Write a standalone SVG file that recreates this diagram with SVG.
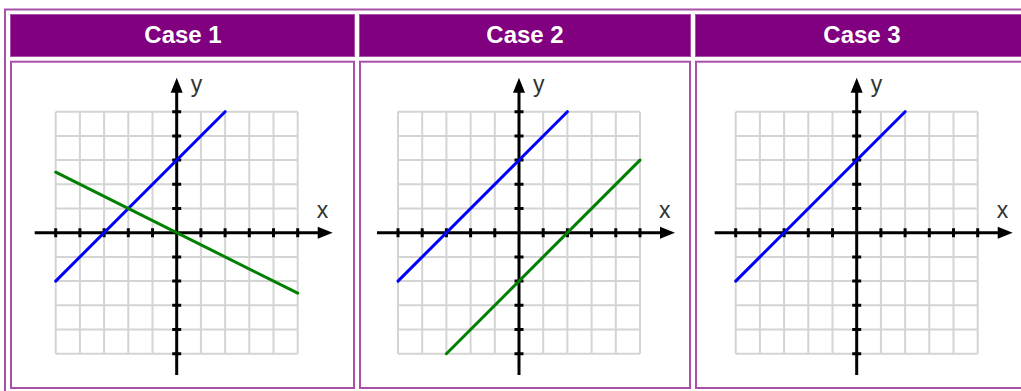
<svg xmlns="http://www.w3.org/2000/svg" xmlns:xlink="http://www.w3.org/1999/xlink" width="1021" height="391" viewBox="0 0 1021 391">
<style>
.outer{fill:none;stroke:#a850a8;stroke-width:2}
.head{fill:#800080;stroke:#a850a8;stroke-width:1}
.cell{fill:#fff;stroke:#a850a8;stroke-width:2}
.htxt{font-family:"Liberation Sans",Arial,sans-serif;font-weight:bold;font-size:24px;fill:#fff;text-anchor:middle}
.lbl{font-family:"Liberation Sans",Arial,sans-serif;font-size:23px;fill:#333}
.grid{fill:none;stroke:#d4d4d4;stroke-width:2}
.axis{fill:none;stroke:#000;stroke-width:3}
.tick{fill:none;stroke:#000;stroke-width:3}
.blue{stroke:#0000ff;stroke-width:3;stroke-linecap:round;fill:none}
.green{stroke:#008000;stroke-width:3;stroke-linecap:round;fill:none}
</style>
<defs>
<g id="plane">
<path class="grid" d="M-121 -121V121M-96.8 -121V121M-72.6 -121V121M-48.4 -121V121M-24.2 -121V121M24.2 -121V121M48.4 -121V121M72.6 -121V121M96.8 -121V121M121 -121V121M-121 -121H121M-121 -96.8H121M-121 -72.6H121M-121 -48.4H121M-121 -24.2H121M-121 24.2H121M-121 48.4H121M-121 72.6H121M-121 96.8H121M-121 121H121"/>
<path class="axis" d="M0 -141V142.3M-142 0H142"/>
<path class="tick" d="M-121 -4.5V4.5M-96.8 -4.5V4.5M-72.6 -4.5V4.5M-48.4 -4.5V4.5M-24.2 -4.5V4.5M24.2 -4.5V4.5M48.4 -4.5V4.5M72.6 -4.5V4.5M96.8 -4.5V4.5M121 -4.5V4.5M-4.5 -121H4.5M-4.5 -96.8H4.5M-4.5 -72.6H4.5M-4.5 -48.4H4.5M-4.5 -24.2H4.5M-4.5 24.2H4.5M-4.5 48.4H4.5M-4.5 72.6H4.5M-4.5 96.8H4.5M-4.5 121H4.5"/>
<path fill="#000" d="M0 -155L-6 -140H6Z M156 0L141 -6V6Z"/>
</g>
</defs>
<rect x="0" y="0" width="1021" height="391" fill="#fff"/>
<rect class="outer" x="5" y="9.5" width="1030" height="395"/>
<g id="case1">
<rect class="head" x="10.5" y="14.5" width="344" height="42"/>
<text class="htxt" x="183" y="42.5">Case 1</text>
<rect class="cell" x="11" y="61.7" width="343" height="326.3"/>
<g transform="translate(176.7 232.7)">
<use xlink:href="#plane" href="#plane"/>
<path class="blue" d="M-121 48.4L48.4 -121"/>
<path class="green" d="M-121 -60.5L121 60.5"/>
<text class="lbl" x="14" y="-141">y</text>
<text class="lbl" x="140" y="-15">x</text>
</g>
</g>
<g id="case2">
<rect class="head" x="359.5" y="14.5" width="331" height="42"/>
<text class="htxt" x="525" y="42.5">Case 2</text>
<rect class="cell" x="360" y="61.7" width="330" height="326.3"/>
<g transform="translate(519 232.7)">
<use xlink:href="#plane" href="#plane"/>
<path class="blue" d="M-121 48.4L48.4 -121"/>
<path class="green" d="M-72.6 121L121 -72.6"/>
<text class="lbl" x="14" y="-141">y</text>
<text class="lbl" x="140" y="-15">x</text>
</g>
</g>
<g id="case3">
<rect class="head" x="695.5" y="14.5" width="340" height="42"/>
<text class="htxt" x="862" y="42.5">Case 3</text>
<rect class="cell" x="696" y="61.7" width="340" height="326.3"/>
<g transform="translate(856.7 232.7)">
<use xlink:href="#plane" href="#plane"/>
<path class="blue" d="M-121 48.4L48.4 -121"/>
<text class="lbl" x="14" y="-141">y</text>
<text class="lbl" x="140" y="-15">x</text>
</g>
</g>
</svg>
